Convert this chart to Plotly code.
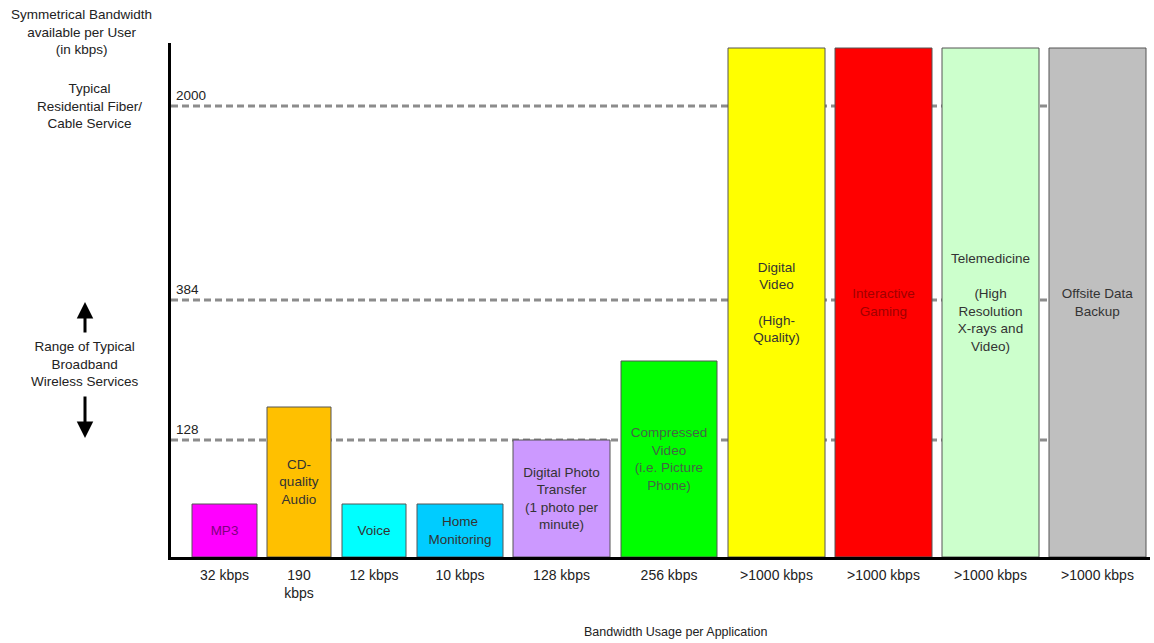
import plotly.graph_objects as go

# ---- data ----
applications = ["MP3", "CD-<br>quality<br>Audio", "Voice", "Home<br>Monitoring",
                "Digital Photo<br>Transfer<br>(1 photo per<br>minute)",
                "Compressed<br>Video<br>(i.e. Picture<br>Phone)",
                "Digital<br>Video<br><br>(High-<br>Quality)",
                "Interactive<br>Gaming",
                "Telemedicine<br><br>(High<br>Resolution<br>X-rays and<br>Video)",
                "Offsite Data<br>Backup"]
usage_labels = ["32 kbps", "190<br>kbps", "12 kbps", "10 kbps", "128 kbps",
                "256 kbps", ">1000 kbps", ">1000 kbps", ">1000 kbps", ">1000 kbps"]
# bar heights on the chart's (non-linear) display scale
display_height = [53, 150, 53, 53, 117, 196, 509, 509, 509, 509]
# reference bandwidth levels and their positions on the display scale
ref_labels = ["128", "384", "2000"]
ref_levels = [117, 257, 451]

# ---- layout / style (not data) ----
bar_centers = [53.5, 128, 203, 289, 390.5, 498, 605.5, 712.5, 819.5, 926.5]
bar_widths = [65, 64, 64, 86, 97, 96, 97, 97, 97, 97]
bar_colors = ["#FF00FF", "#FFC000", "#00FFFF", "#00CCFF", "#CC99FF",
              "#00FF00", "#FFFF00", "#FF0000", "#CCFFCC", "#BFBFBF"]
text_colors = ["#7F007F", "#333333", "#333333", "#333333", "#333333",
               "#446644", "#333333", "#A00000", "#333333", "#333333"]

FONT = "Liberation Sans, Arial, sans-serif"
W, H = 1154, 643
ML, MR, MT, MB = 171, 4, 43, 86
XMAX = W - ML - MR
YMAX = H - MT - MB

fig = go.Figure()
fig.add_trace(go.Bar(
    x=bar_centers, y=display_height, width=bar_widths,
    marker=dict(color=bar_colors, line=dict(color="#555555", width=1)),
    text=applications, textposition="inside", insidetextanchor="middle",
    textangle=0, constraintext="none",
    textfont=dict(family=FONT, size=13.5, color=text_colors),
    hoverinfo="skip",
))

shapes = []
annotations = []
for lab, lev in zip(ref_labels, ref_levels):
    shapes.append(dict(type="line", xref="x", yref="y", x0=0, x1=XMAX, y0=lev, y1=lev,
                       line=dict(color="#8C8C8C", width=3, dash="7px,4px"), layer="below"))
    annotations.append(dict(x=3, y=lev, xref="x", yref="y", text=lab, showarrow=False,
                            xanchor="left", yanchor="bottom", yshift=1,
                            font=dict(family=FONT, size=13.5, color="#222222")))

def px_x(p):
    return (p - ML) / XMAX

def px_y(p):
    return (H - MB - p) / YMAX

side_font = dict(family=FONT, size=13.5, color="#222222")
annotations += [
    dict(x=px_x(81), y=px_y(32), xref="paper", yref="paper", showarrow=False,
         text="Symmetrical Bandwidth<br>available per User<br>(in kbps)",
         xanchor="center", yanchor="middle", font=side_font),
    dict(x=px_x(89), y=px_y(106), xref="paper", yref="paper", showarrow=False,
         text="Typical<br>Residential Fiber/<br>Cable Service",
         xanchor="center", yanchor="middle", font=side_font),
    dict(x=px_x(85), y=px_y(364), xref="paper", yref="paper", showarrow=False,
         text="Range of Typical<br>Broadband<br>Wireless Services",
         xanchor="center", yanchor="middle", font=side_font),
    dict(x=px_x(85), y=px_y(302), xref="paper", yref="paper", text="", showarrow=True,
         ax=0, ay=32, arrowhead=2, arrowsize=1.1, arrowwidth=3, arrowcolor="#000000"),
    dict(x=px_x(85), y=px_y(438), xref="paper", yref="paper", text="", showarrow=True,
         ax=0, ay=-43, arrowhead=2, arrowsize=1.1, arrowwidth=3, arrowcolor="#000000"),
    dict(x=px_x(676), y=px_y(632), xref="paper", yref="paper", showarrow=False,
         text="Bandwidth Usage per Application",
         xanchor="center", yanchor="middle", font=dict(family=FONT, size=12.5, color="#222222")),
]

fig.update_layout(
    width=W, height=H,
    margin=dict(l=ML, r=MR, t=MT, b=MB, pad=0),
    paper_bgcolor="white", plot_bgcolor="white",
    showlegend=False,
    shapes=shapes, annotations=annotations,
    xaxis=dict(range=[0, XMAX], showgrid=False, zeroline=False,
               showline=True, linecolor="#000000", linewidth=3,
               tickvals=bar_centers, ticktext=usage_labels, ticks="",
               ticklabelstandoff=3,
               tickfont=dict(family=FONT, size=14, color="#222222"), fixedrange=True),
    yaxis=dict(range=[0, YMAX], showgrid=False, zeroline=False,
               showline=True, linecolor="#000000", linewidth=3,
               showticklabels=False, ticks="", fixedrange=True),
    font=dict(family=FONT),
)

fig.write_html("out.html", config={"displayModeBar": False})
